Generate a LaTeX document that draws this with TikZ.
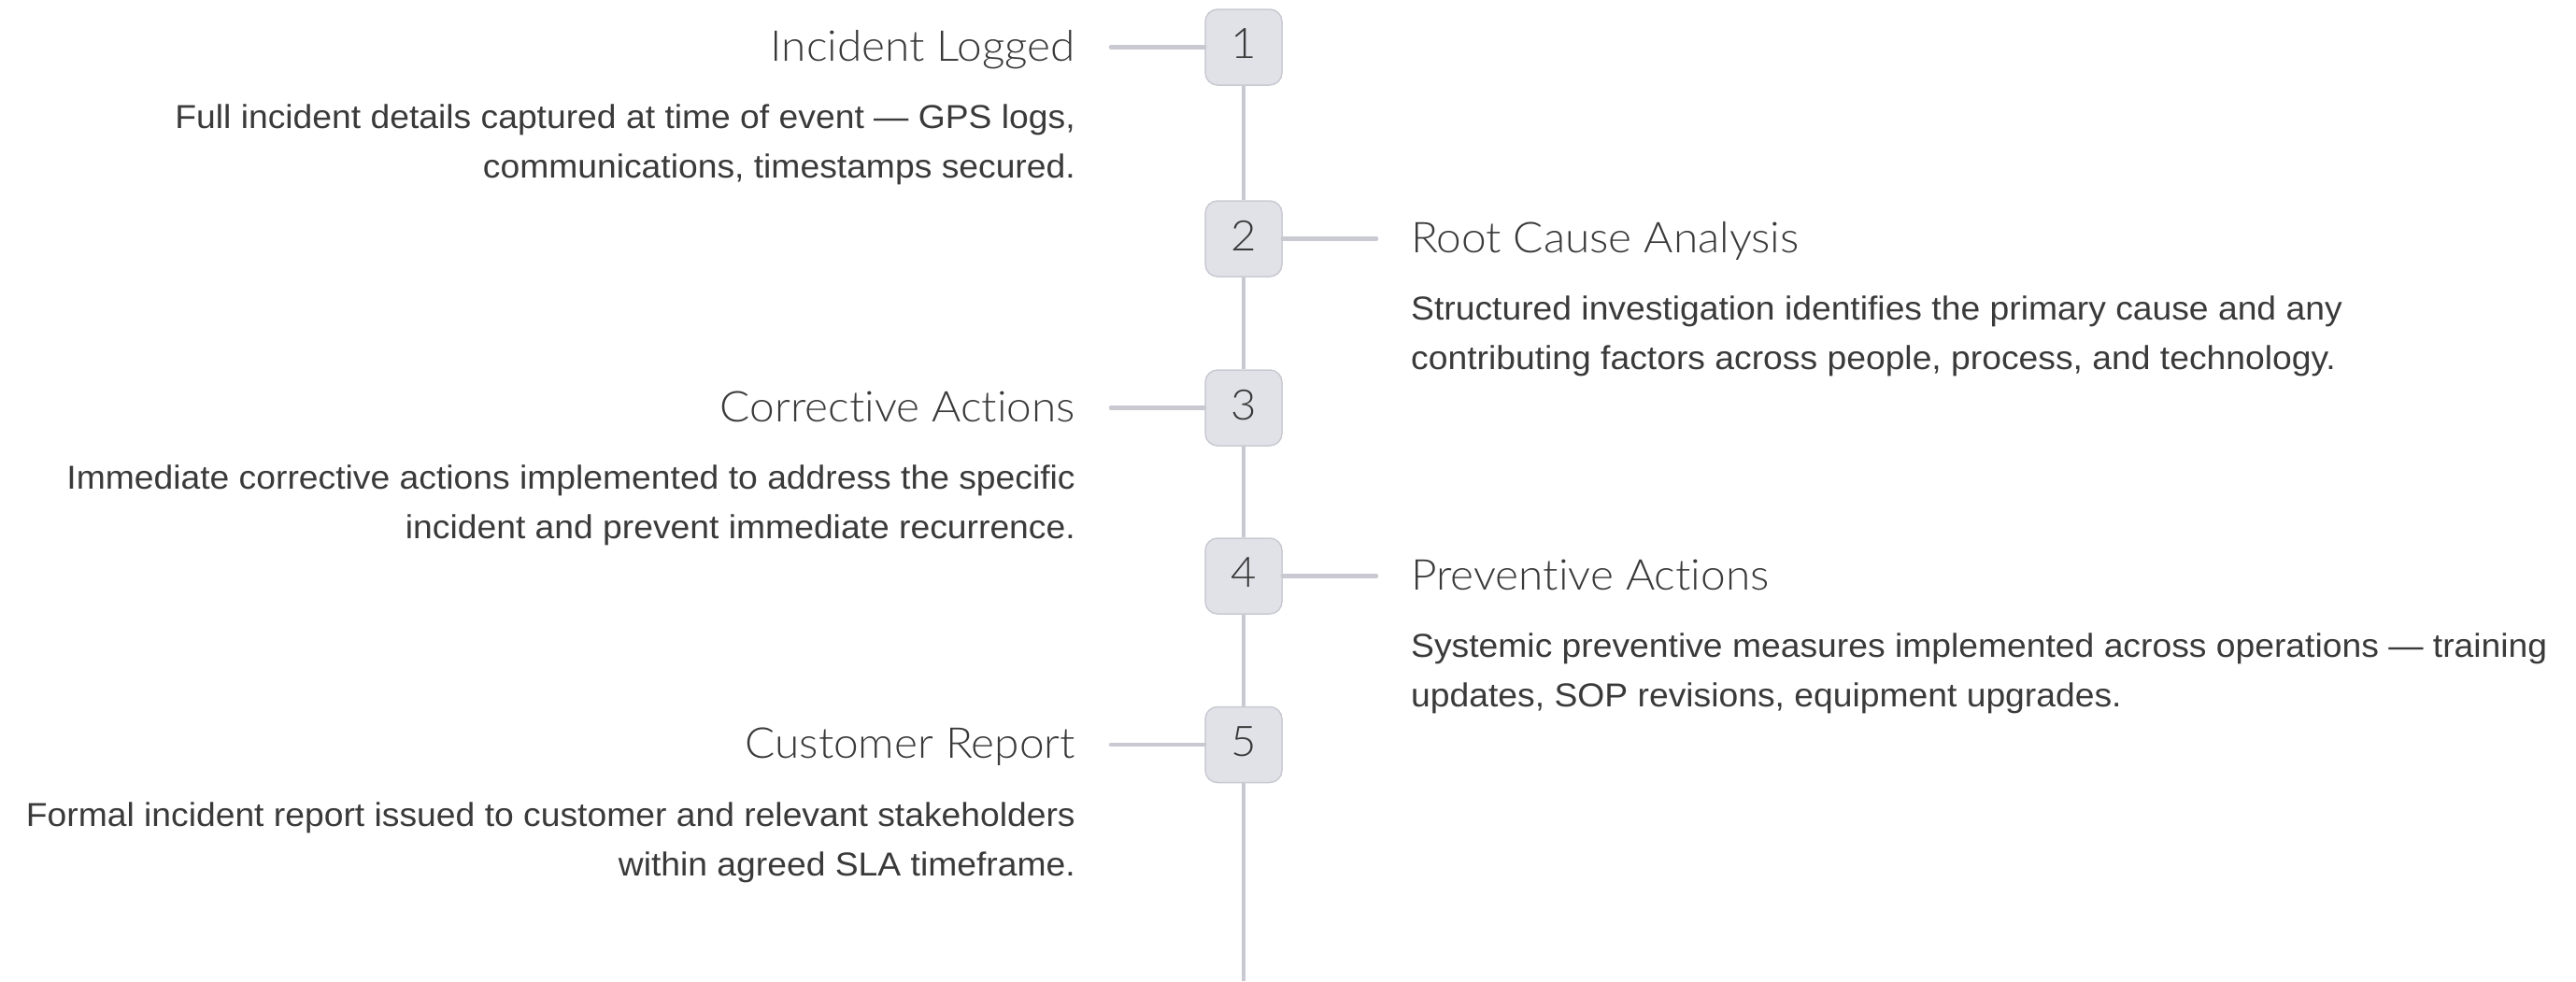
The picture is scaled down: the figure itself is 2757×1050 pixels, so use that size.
\documentclass[tikz,border=0pt]{standalone}
\usepackage{fontspec}
\setmainfont{Liberation Sans}[FakeStretch=1.05]
\IfFontExistsTF{Lato Light}{\newfontfamily\ttlfont{Lato Light}[Ligatures=NoCommon, FakeStretch=1.05]}{\newfontfamily\ttlfont{Lato}[Ligatures=NoCommon, FakeStretch=1.05]}
\definecolor{txt}{HTML}{3A3A3A}
\definecolor{lnc}{HTML}{C9C9D1}
\definecolor{boxfill}{HTML}{E1E1E8}
\definecolor{boxline}{HTML}{CACAD3}
\tikzset{
  numbox/.style={draw=boxline, line width=1.5pt, fill=boxfill, rounded corners=13pt,
    minimum width=82pt, minimum height=81pt, inner sep=0pt, text=txt,
    font=\ttlfont\fontsize{45}{45}\selectfont},
  conn/.style={draw=lnc, line width=4.5pt, line cap=round},
  spine/.style={draw=lnc, line width=4.5pt},
  ttl/.style={text=txt, inner sep=0pt, font=\ttlfont\fontsize{45.5}{50}\selectfont},
  dsc/.style={text=txt, inner sep=0pt, font=\fontsize{35.5}{53}\selectfont},
}
\newcommand{\numup}[1]{\raisebox{7pt}{#1}}
\begin{document}
\begin{tikzpicture}[x=1pt,y=-1pt]
\useasboundingbox (0,0) rectangle (2757,1050);
\fill[white] (0,0) rectangle (2757,1050);
% boxes
\node[numbox] (b1) at (1331,50.5) {\numup{1}};
\node[numbox] (b2) at (1331,255.5) {\numup{2}};
\node[numbox] (b3) at (1331,436.5) {\numup{3}};
\node[numbox] (b4) at (1331,616.5) {\numup{4}};
\node[numbox] (b5) at (1331,797) {\numup{5}};
\coordinate (bot) at (1331,1050);
% spine
\draw[spine] (b1) -- (b2);
\draw[spine] (b2) -- (b3);
\draw[spine] (b3) -- (b4);
\draw[spine] (b4) -- (b5);
\draw[spine] (b5) -- (bot);
% branch ends
\coordinate (e1) at (1189,50.5);
\coordinate (e2) at (1473,255.5);
\coordinate (e3) at (1189,436.5);
\coordinate (e4) at (1473,616.5);
\coordinate (e5) at (1189,797);
\draw[conn] (e1) -- (b1.west);
\draw[conn] (b2.east) -- (e2);
\draw[conn] (e3) -- (b3.west);
\draw[conn] (b4.east) -- (e4);
\draw[conn] (e5) -- (b5.west);
% item 1
\node[ttl, anchor=base east] (t1) at (1151,65) {Incident Logged};
\node[dsc, anchor=base east] (d1a) at (1151,137.5) {Full incident details captured at time of event — GPS logs,};
\node[dsc, anchor=base east] (d1b) at (1151,190.5) {communications, timestamps secured.};
% item 2
\node[ttl, anchor=base west] (t2) at (1510,270) {Root Cause Analysis};
\node[dsc, anchor=base west] (d2a) at (1510,342.5) {Structured investigation identifies the primary cause and any};
\node[dsc, anchor=base west] (d2b) at (1510,395.5) {contributing factors across people, process, and technology.};
% item 3
\node[ttl, anchor=base east] (t3) at (1151,451) {Corrective Actions};
\node[dsc, anchor=base east] (d3a) at (1151,523.5) {Immediate corrective actions implemented to address the specific};
\node[dsc, anchor=base east] (d3b) at (1151,576.5) {incident and prevent immediate recurrence.};
% item 4
\node[ttl, anchor=base west] (t4) at (1510,631) {Preventive Actions};
\node[dsc, anchor=base west] (d4a) at (1510,703.5) {Systemic preventive measures implemented across operations — training};
\node[dsc, anchor=base west] (d4b) at (1510,756.5) {updates, SOP revisions, equipment upgrades.};
% item 5
\node[ttl, anchor=base east] (t5) at (1151,811.5) {Customer Report};
\node[dsc, anchor=base east] (d5a) at (1151,884) {Formal incident report issued to customer and relevant stakeholders};
\node[dsc, anchor=base east] (d5b) at (1151,937) {within agreed SLA timeframe.};
\end{tikzpicture}
\end{document}
